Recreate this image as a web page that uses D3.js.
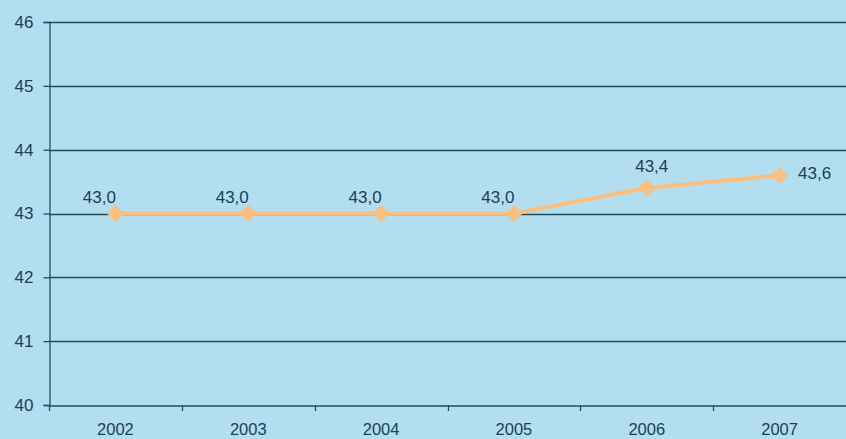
<!DOCTYPE html>
<html>
<head>
<meta charset="utf-8">
<script src="https://cdn.jsdelivr.net/npm/d3@7/dist/d3.min.js"></script>
<style>
  html, body { margin: 0; padding: 0; background: #b3def0; }
  svg { display: block; }
  text { font-family: "Liberation Sans", Arial, sans-serif; fill: #1b3f55; }
</style>
</head>
<body>
<svg id="chart" width="846" height="439"></svg>
<script>
const years = ["2002", "2003", "2004", "2005", "2006", "2007"]
const values = [43.0, 43.0, 43.0, 43.0, 43.4, 43.6]
const yTicks = [40, 41, 42, 43, 44, 45, 46]

const W = 846, H = 439
const margins = {left: 49, right: 0, top: 22, bottom: 34}
const axisColor = "#1f4d66"
const lineColor = "#fcbf7e"

const svg = d3.select("#chart")
svg.append("rect").attr("width", W).attr("height", H).attr("fill", "#b3def0")

const x = d3.scaleBand()
  .domain(years)
  .range([margins.left, W - margins.right])

const y = d3.scaleLinear()
  .domain([40, 46])
  .range([H - margins.bottom, margins.top])

// gridlines
svg.append("g")
  .selectAll("line")
  .data(yTicks.filter(d => d !== 40))
  .join("line")
  .attr("x1", margins.left)
  .attr("x2", W)
  .attr("y1", d => Math.round(y(d)) + 0.5)
  .attr("y2", d => Math.round(y(d)) + 0.5)
  .attr("stroke", axisColor)
  .attr("stroke-width", 1.3)

// y axis
const yAxis = svg.append("g")
  .attr("transform", `translate(${margins.left + 0.5},0)`)
  .call(d3.axisLeft(y).tickValues(yTicks).tickSize(6).tickPadding(10).tickFormat(d3.format("d")))
yAxis.select(".domain").attr("stroke", axisColor).attr("stroke-width", 1.3)
yAxis.selectAll(".tick line").attr("stroke", axisColor).attr("stroke-width", 1.3)
yAxis.selectAll(".tick text")
  .attr("font-size", 17)
  .attr("font-family", "Liberation Sans, Arial, sans-serif")
  .attr("fill", "#1b3f55")

// x axis
const xAxis = svg.append("g")
  .attr("transform", `translate(0,${Math.round(y(40)) + 0.5})`)
  .call(d3.axisBottom(x).tickSize(0).tickPadding(18))
xAxis.select(".domain").attr("stroke", axisColor).attr("stroke-width", 1.3)
xAxis.selectAll(".tick text")
  .attr("font-size", 16.5)
  .attr("font-family", "Liberation Sans, Arial, sans-serif")
  .attr("fill", "#1b3f55")

// category separator ticks
svg.append("g")
  .selectAll("line")
  .data(years)
  .join("line")
  .attr("x1", d => Math.round(x(d)) + 0.5)
  .attr("x2", d => Math.round(x(d)) + 0.5)
  .attr("y1", Math.round(y(40)))
  .attr("y2", Math.round(y(40)) + 6)
  .attr("stroke", axisColor)
  .attr("stroke-width", 1.3)

const cx = d => x(d) + x.bandwidth() / 2

// series line
const line = d3.line()
  .x((d, i) => cx(years[i]))
  .y(d => y(d))

svg.append("path")
  .datum(values)
  .attr("d", line)
  .attr("fill", "none")
  .attr("stroke", lineColor)
  .attr("stroke-width", 4)

// diamond markers
svg.append("g")
  .selectAll("path")
  .data(values)
  .join("path")
  .attr("transform", (d, i) => `translate(${cx(years[i])},${y(d)})`)
  .attr("d", "M0,-8.5L8.5,0L0,8.5L-8.5,0Z")
  .attr("fill", lineColor)

// value labels
const fmt = d => d.toFixed(1).replace(".", ",")
const last = values.length - 1
svg.append("g")
  .selectAll("text")
  .data(values)
  .join("text")
  .attr("x", (d, i) => {
    if (i === last) return cx(years[i]) + 35
    if (i === last - 1) return cx(years[i]) + 5
    return cx(years[i]) - 16
  })
  .attr("y", (d, i) => {
    if (i === last) return y(d) + 4
    if (i === last - 1) return y(d) - 16
    return y(d) - 11
  })
  .attr("text-anchor", "middle")
  .attr("font-size", 17)
  .text(fmt)
</script>
</body>
</html>
